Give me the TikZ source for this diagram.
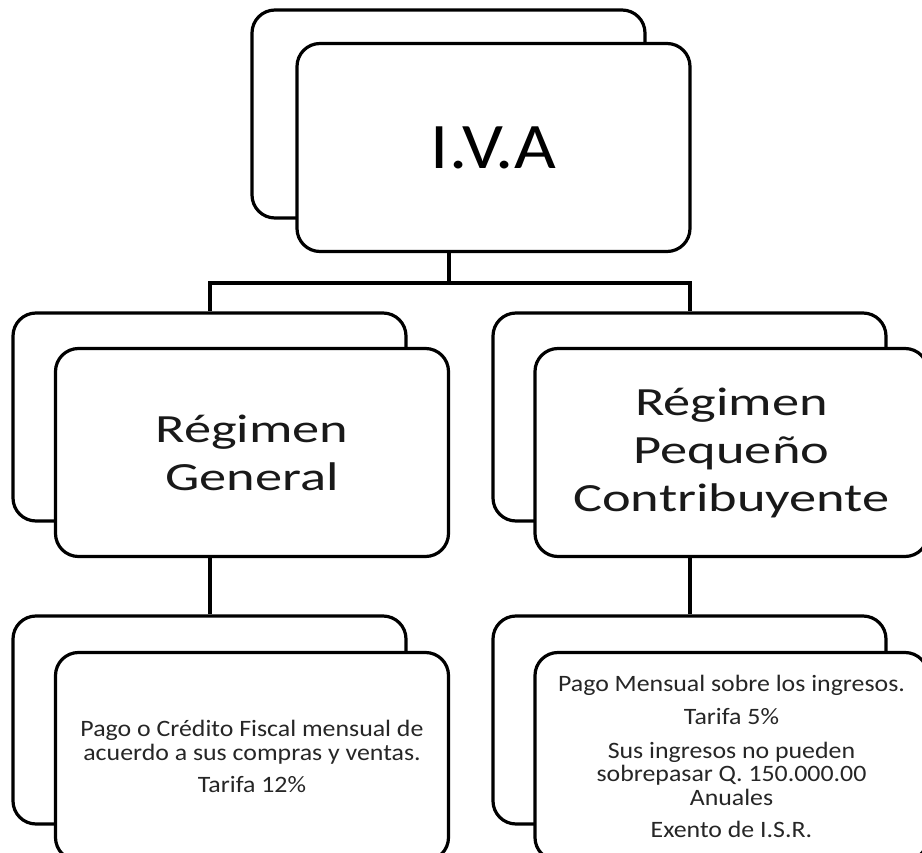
\documentclass[tikz,border=0pt]{standalone}
\usepackage{fontspec}
\setmainfont{Carlito}
\newfontfamily\ivafont{Carlito}[FakeStretch=1.11]
\newfontfamily\headfont{Carlito}[FakeStretch=1.36]
\newfontfamily\bodyfont{Carlito}[FakeStretch=1.10]
\pgfdeclarelayer{bg}
\pgfsetlayers{bg,main}
\tikzset{
  card/.style={draw=black, fill=white, line width=3.2pt, rounded corners=23pt,
    rectangle, minimum width=393pt, minimum height=208pt, inner sep=0pt},
  conn/.style={draw=black, line width=4pt, line join=miter},
  headtext/.style={align=center, font=\headfont\fontsize{40}{48}\selectfont, text=black!90},
  bodytext/.style={align=center, font=\bodyfont\fontsize{23.5}{23.5}\selectfont, text=black!85},
}
\begin{document}
\begin{tikzpicture}[x=1pt, y=-1pt]
\clip (0,0) rectangle (922,853);
% back and front cards
\node[card] (ivaB) at (448.5,114) {};
\node[card] (iva) at (493.5,147.5) {\ivafont\fontsize{65}{70}\selectfont I.V.A};
\node[card] (rgB) at (209.5,417) {};
\node[card, headtext] (rg) at (252,452.5) {Régimen\\General};
\node[card] (rpB) at (689.5,417) {};
\node[card, headtext] (rp) at (731.5,452.5) {Régimen\\Pequeño\\Contribuyente};
\node[card] (dgB) at (209.5,720) {};
\node[card, bodytext] (dg) at (252,756.5) {Pago o Crédito Fiscal mensual de\\acuerdo a sus compras y ventas.\\[9pt]Tarifa 12\%};
\node[card] (dpB) at (689.5,720) {};
\node[card, bodytext] (dp) at (731.5,756.5) {Pago Mensual sobre los ingresos.\\[10pt]Tarifa 5\%\\[10pt]Sus ingresos no pueden\\sobrepasar Q. 150.000.00\\Anuales\\[9pt]Exento de I.S.R.};
\coordinate (bar) at (448.5,283);
\begin{pgfonlayer}{bg}
\fill[white] (0,0) rectangle (922,853);
\draw[conn] (ivaB.south) -- (bar) -| (rgB.north);
\draw[conn] (bar) -| (rpB.north);
\draw[conn] (rgB.south) -- (dgB.north);
\draw[conn] (rpB.south) -- (dpB.north);
\end{pgfonlayer}
\end{tikzpicture}
\end{document}
